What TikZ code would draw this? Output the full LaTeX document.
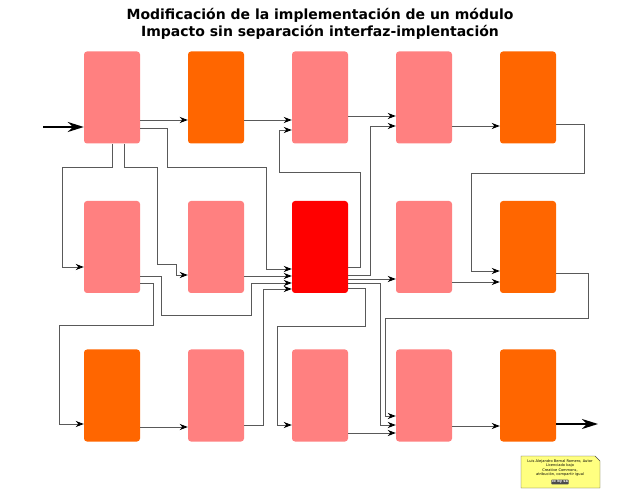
\documentclass[tikz,border=0pt]{standalone}
\usepackage{fontspec}
\setmainfont{DejaVu Sans}
\usetikzlibrary{arrows.meta,shapes.misc}
\definecolor{rosa}{HTML}{FF8080}
\definecolor{naranja}{HTML}{FF6600}
\definecolor{rojo}{HTML}{FF0000}
\definecolor{nota}{HTML}{FFFF80}
\tikzset{
  modulo/.style={rounded corners=3pt,minimum width=56pt,minimum height=92pt,inner sep=0pt},
  flujo/.style={draw=black!65,line width=0.8pt,-{Stealth[length=8pt,width=6pt,inset=2.5pt,color=black]}},
  extremo/.style={draw=black,line width=1.8pt,-{Stealth[length=16pt,width=10pt,inset=5pt]}}
}
\begin{document}
\begin{tikzpicture}[x=1pt,y=-1pt]
\useasboundingbox (0,0) rectangle (640,494);
\node (titulo) at (320,24) [align=center,font=\bfseries\fontsize{14}{17}\selectfont]
  {Modificación de la implementación de un módulo\\Impacto sin separación interfaz-implentación};
% modulos
\foreach \fila/\y/\colores in {a/97.5/{rosa,naranja,rosa,rosa,naranja},
                              b/247/{rosa,rosa,rojo,rosa,naranja},
                              c/395.5/{naranja,rosa,rosa,rosa,naranja}}
  \foreach \col [count=\i] in \colores
    \node[modulo,fill=\col] (\fila\i) at (8+104*\i,\y) {};
\coordinate (entrada) at (43,127);
\coordinate (salida) at (598,424);
\draw[extremo] (entrada) -- (a1.west|-0,127);
\draw[extremo] (c5.east|-0,424) -- (salida);
% conexiones
\draw[flujo] (a1.east|-0,120) -- (a2.west|-0,120);
\draw[flujo] (a1.east|-0,128) -| (167,167) -| (266,269) -- (b3.west|-0,269);
\draw[flujo] (a1.south-|112,0) |- (62,167) |- (b1.west|-0,267);
\draw[flujo] (a1.south-|124,0) |- (157,167) |- (176,264) |- (b2.west|-0,275);
\draw[flujo] (a2.east|-0,120) -- (a3.west|-0,120);
\draw[flujo] (b3.east|-0,267) -| (360,172) -| (279,130) -- (a3.west|-0,130);
\draw[flujo] (a3.east|-0,116) -- (a4.west|-0,116);
\draw[flujo] (b3.east|-0,275) -| (370,126) -- (a4.west|-0,126);
\draw[flujo] (a4.east|-0,126) -- (a5.west|-0,126);
\draw[flujo] (a5.east|-0,124) -| (584,173) -| (471,271) -- (b5.west|-0,271);
\draw[flujo] (b3.east|-0,279) -- (b4.west|-0,279);
\draw[flujo] (b4.east|-0,282) -- (b5.west|-0,282);
\draw[flujo] (b5.east|-0,273) -| (588,318) -| (385,416) -- (c4.west|-0,416);
\draw[flujo] (b3.east|-0,283) -| (380,425) -- (c4.west|-0,425);
\draw[flujo] (b3.east|-0,288) -| (365,326) -| (277,425) -- (c3.west|-0,425);
\draw[flujo] (c3.east|-0,433) -- (c4.west|-0,433);
\draw[flujo] (c4.east|-0,426) -- (c5.west|-0,426);
\draw[flujo] (b2.east|-0,276) -- (b3.west|-0,276);
\draw[flujo] (b1.east|-0,276) -| (161,315) -| (251,283) -- (b3.west|-0,283);
\draw[flujo] (b1.east|-0,283) -| (153,325) -| (59,424) -- (c1.west|-0,424);
\draw[flujo] (c2.east|-0,425) -| (263,289) -- (b3.west|-0,289);
\draw[flujo] (c1.east|-0,427) -- (c2.west|-0,427);
% nota de licencia
\filldraw[fill=nota,draw=black!70,line width=0.4pt]
  (521,456) -- (595,456) -- (600,461) -- (600,488) -- (521,488) -- cycle;
\node (licencia) at (560,468) [align=center,font=\fontsize{3.6}{4.3}\selectfont,inner sep=0pt]
  {Luis Alejandro Bernal Romero, Autor\\Licenciado bajo\\Creative Commons,\\atribución, compartir igual};
\node (logo) at (560,482) [fill=black!70,text=white,rounded corners=0.5pt,inner sep=0.6pt,
  font=\fontsize{3.5}{4}\selectfont\bfseries] {cc by sa};
\end{tikzpicture}
\end{document}
